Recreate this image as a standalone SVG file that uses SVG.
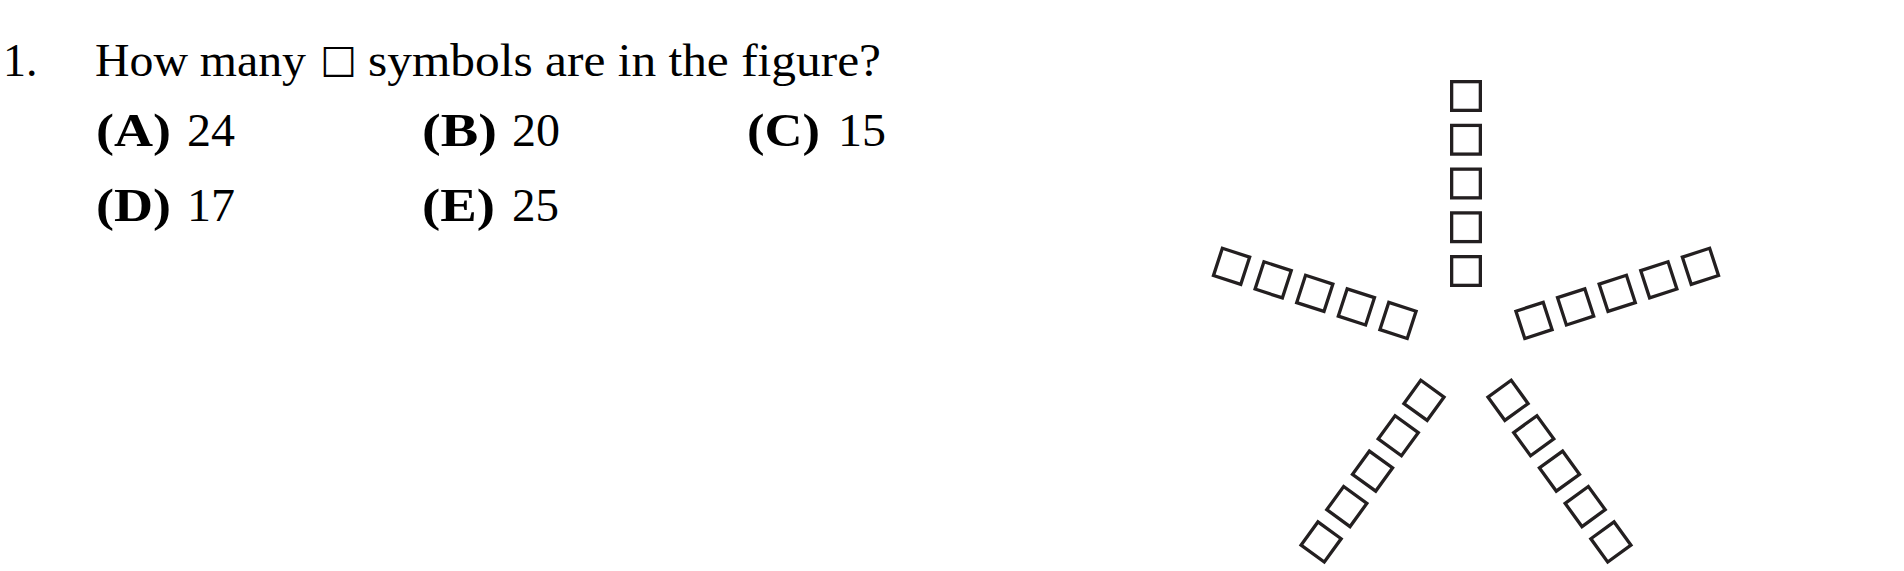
<svg xmlns="http://www.w3.org/2000/svg" xmlns:xlink="http://www.w3.org/1999/xlink" width="1904" height="571" viewBox="0 0 1904 571">
<style>
.t{font-family:"Liberation Serif","Times New Roman",serif;font-size:46px;fill:#000}
.b{font-weight:bold}
.sq{fill:none;stroke:#231f20;stroke-width:3.3}
.sym{font-family:"DejaVu Sans",sans-serif;font-size:39px;fill:#000}
</style>
<defs>
<g id="arm">
<rect class="sq" x="1451.65" y="256.65" width="28.7" height="28.7"/>
<rect class="sq" x="1451.65" y="212.9" width="28.7" height="28.7"/>
<rect class="sq" x="1451.65" y="169.15" width="28.7" height="28.7"/>
<rect class="sq" x="1451.65" y="125.4" width="28.7" height="28.7"/>
<rect class="sq" x="1451.65" y="81.65" width="28.7" height="28.7"/>
</g>
</defs>
<g id="question">
<text class="t" x="3" y="75.7">1.</text>
<text class="t" x="95" y="75.7" textLength="211" lengthAdjust="spacingAndGlyphs">How many</text>
<text class="sym" x="320" y="71.7">□</text>
<text class="t" x="368" y="75.7" textLength="513" lengthAdjust="spacingAndGlyphs">symbols are in the figure?</text>
</g>
<g id="choices">
<text class="t b" x="96" y="146" textLength="75" lengthAdjust="spacingAndGlyphs">(A)</text>
<text class="t" x="187" y="146" textLength="48" lengthAdjust="spacingAndGlyphs">24</text>
<text class="t b" x="422" y="146" textLength="75" lengthAdjust="spacingAndGlyphs">(B)</text>
<text class="t" x="512" y="146" textLength="48" lengthAdjust="spacingAndGlyphs">20</text>
<text class="t b" x="747" y="146" textLength="73" lengthAdjust="spacingAndGlyphs">(C)</text>
<text class="t" x="838" y="146" textLength="48" lengthAdjust="spacingAndGlyphs">15</text>
<text class="t b" x="96" y="220.5" textLength="75" lengthAdjust="spacingAndGlyphs">(D)</text>
<text class="t" x="187" y="220.5" textLength="48" lengthAdjust="spacingAndGlyphs">17</text>
<text class="t b" x="422" y="220.5" textLength="73" lengthAdjust="spacingAndGlyphs">(E)</text>
<text class="t" x="512" y="220.5" textLength="47" lengthAdjust="spacingAndGlyphs">25</text>
</g>
<g id="figure">
<g id="arm-up"><use xlink:href="#arm"/></g>
<g id="arm-right"><use xlink:href="#arm" transform="rotate(72 1466 342.5)"/></g>
<g id="arm-lower-right"><use xlink:href="#arm" transform="rotate(144 1466 342.5)"/></g>
<g id="arm-lower-left"><use xlink:href="#arm" transform="rotate(216 1466 342.5)"/></g>
<g id="arm-left"><use xlink:href="#arm" transform="rotate(288 1466 342.5)"/></g>
</g>
</svg>
